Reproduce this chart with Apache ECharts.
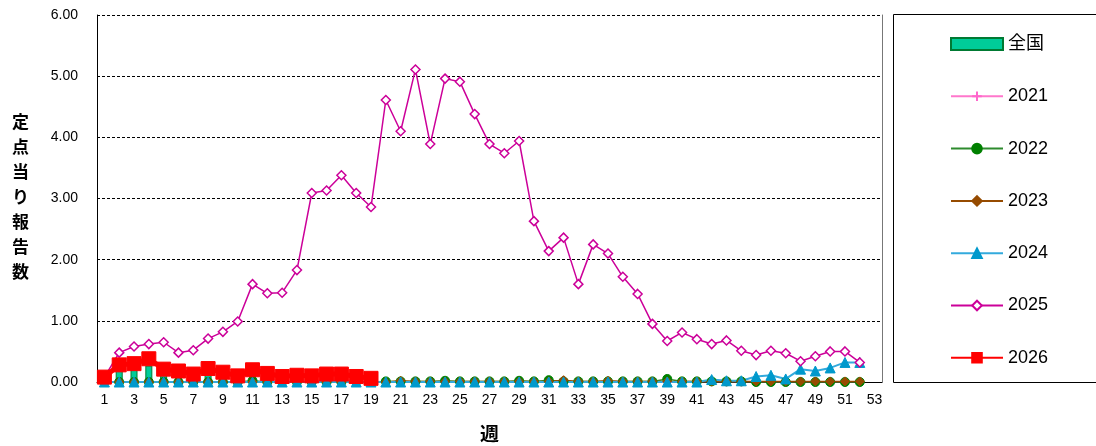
<!DOCTYPE html>
<html><head><meta charset="utf-8">
<script src="https://cdn.jsdelivr.net/npm/echarts@6/dist/echarts.min.js"></script>
<style>html,body{margin:0;padding:0;background:#fff}#c{width:1096px;height:446px}</style>
</head><body><div id="c"></div>
<script>
const weeks = Array.from({length:53},(_,i)=>String(i+1));
const yTicks = [0,1,2,3,4,5,6];
const national = [0.05,0.20,0.20,0.27,0.12,0.10,0.07,0.12,0.08,0.05,0.10,0.07,0.05,0.05,0.05,0.06,0.06,0.05,0.04];
const y2021 = [0,0,0,0,0,0,0,0,0,0,0,0,0,0,0,0,0,0,0,0,0,0,0,0,0,0,0,0,0,0,0,0,0,0,0,0,0,0,0,0,0,0,0,0,0,0,0,0,0,0,0,0];
const y2022 = [0,0,0,0,0,0,0,0,0,0,0.02,0,0,0,0,0,0,0,0,0.01,0.01,0.01,0.01,0.02,0.01,0.01,0.01,0.01,0.02,0.01,0.03,0.01,0.01,0.01,0.01,0.01,0.01,0.01,0.05,0.01,0.01,0.01,0.01,0.01,0,0,0,0,0,0,0,0];
const y2023 = [0,0,0,0,0,0,0,0,0,0,0,0,0,0,0,0,0,0,0,0,0.02,0.01,0.01,0.01,0.01,0.01,0.01,0.01,0.01,0.01,0.01,0.03,0.01,0.01,0.02,0.01,0.01,0.01,0.01,0.01,0.01,0.01,0.01,0.01,0.01,0.01,0.01,0.01,0.01,0.01,0.01,0.01];
const y2024 = [0,0,0,0,0,0,0,0,0,0,0,0,0,0,0,0,0,0,0,0,0,0,0,0,0,0,0,0,0,0,0,0,0,0,0,0,0,0,0,0,0,0.04,0.02,0.02,0.09,0.11,0.05,0.21,0.18,0.23,0.32,0.32];
const y2025 = [0.08,0.48,0.58,0.62,0.65,0.48,0.52,0.71,0.82,0.99,1.60,1.45,1.46,1.83,3.09,3.13,3.38,3.09,2.86,4.61,4.10,5.11,3.89,4.96,4.91,4.38,3.89,3.74,3.94,2.63,2.14,2.36,1.60,2.25,2.10,1.72,1.44,0.95,0.67,0.81,0.70,0.62,0.68,0.51,0.44,0.51,0.47,0.34,0.42,0.50,0.50,0.32];
const y2026 = [0.08,0.28,0.30,0.38,0.21,0.18,0.13,0.22,0.16,0.10,0.20,0.14,0.09,0.11,0.10,0.13,0.13,0.09,0.06];

const FONT = 'Liberation Sans, Arial, Noto Sans CJK JP, sans-serif';
const chart = echarts.init(document.getElementById('c'));
function line(name, data, color, lineColor, symbol, size, width, extra) {
  return Object.assign({
    name, type:'line', data, symbol, symbolSize:size, showSymbol:true, showAllSymbol:true,
    lineStyle:{color:lineColor, width},
    itemStyle:{color, borderColor:color, borderWidth:1},
    emphasis:{disabled:true}, animation:false, z:3
  }, extra||{});
}
chart.setOption({
  animation:false,
  textStyle:{fontFamily:FONT},
  grid:{left:97, top:15, right:214, bottom:64, outerBoundsMode:'none', containLabel:false},
  xAxis:{
    type:'category', data:weeks, boundaryGap:true,
    axisLine:{lineStyle:{color:'#000', width:1}},
    axisTick:{show:false},
    axisLabel:{interval:1, color:'#000', fontSize:14, margin:11, fontFamily:FONT},
    name:'週', nameLocation:'middle', nameGap:44,
    nameTextStyle:{fontSize:19, fontWeight:'bold', color:'#000', fontFamily:FONT}
  },
  yAxis:[{
    type:'value', min:0, max:6, interval:1,
    axisLine:{show:true, lineStyle:{color:'#000', width:1}},
    axisTick:{show:false},
    axisLabel:{color:'#000', fontSize:14, margin:19, formatter:v=>v.toFixed(2), fontFamily:FONT},
    splitLine:{show:true, lineStyle:{color:'#000', type:[3,2], width:1}},
    name:'定\n点\n当\nり\n報\n告\n数', nameLocation:'middle', nameGap:68, nameRotate:0,
    nameTextStyle:{fontSize:17, fontWeight:'bold', color:'#000', lineHeight:25, padding:[20,0,0,0], fontFamily:FONT}
  },{
    type:'value', min:0, max:6, interval:1, position:'right',
    axisLine:{show:true, lineStyle:{color:'#777', width:1}},
    axisTick:{show:false}, axisLabel:{show:false}, splitLine:{show:false}
  }],
  legend:{
    orient:'vertical', left:945, top:30, itemWidth:52, itemHeight:12, itemGap:34.3,
    textStyle:{fontSize:18, color:'#000', fontFamily:FONT},
    selectedMode:false,
    data:[{name:'全国', icon:'rect'},'2021','2022','2023','2024','2025','2026']
  },
  graphic:[{type:'rect', shape:{x:893.5, y:14.5, width:220, height:368}, style:{fill:'none', stroke:'#000', lineWidth:1}, z:-1}],
  series:[
    {name:'全国', type:'bar', data:national, barWidth:7,
     itemStyle:{color:'#00CC99', borderColor:'#007A33', borderWidth:1}, z:2, animation:false},
    line('2021', y2021, '#FF66CC', '#FF77CC', 'path://M-1,0H1M0,-1V1', 9, 1),
    line('2022', y2022, '#008000', '#2E8B2E', 'circle', 9, 1.5),
    line('2023', y2023, '#964B00', '#964B00', 'diamond', 9, 1.5),
    line('2024', y2024, '#0099CC', '#33AADD', 'triangle', 10, 2),
    line('2025', y2025, '#fff', '#CC0099', 'diamond', 9, 1.5, {itemStyle:{color:'#fff', borderColor:'#CC0099', borderWidth:1.5}}),
    line('2026', y2026, '#FF0000', '#FF0000', 'rect', 14, 5, {z:4})
  ]
});
</script></body></html>
